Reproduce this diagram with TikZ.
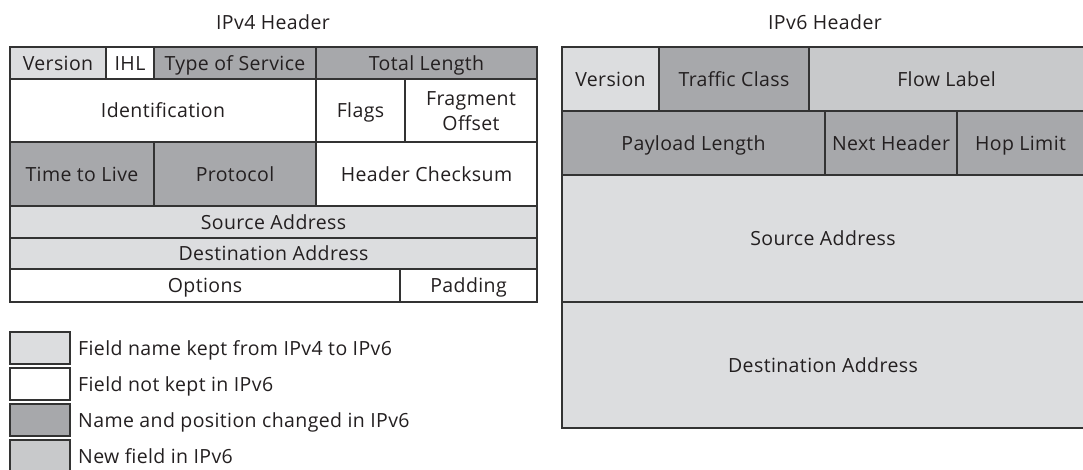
\documentclass[tikz,border=0pt]{standalone}
\usepackage{fontspec}
\setmainfont{Open Sans}[LetterSpace=2]
\usetikzlibrary{positioning}
\definecolor{keptgray}{RGB}{220,221,223}
\definecolor{movedgray}{RGB}{167,168,171}
\definecolor{newgray}{RGB}{200,201,203}
\definecolor{rulegray}{RGB}{51,51,51}
\definecolor{inkgray}{RGB}{35,31,32}
\tikzset{
  field/.style={draw=rulegray, line width=1.2pt, inner sep=0pt, outer sep=0pt,
    anchor=north west, align=center, text height=14pt, text depth=0pt},
  cell/.style 2 args={minimum width=#1pt, minimum height=#2pt},
  kept/.style={field, fill=keptgray},
  gone/.style={field, fill=white},
  moved/.style={field, fill=movedgray},
  added/.style={field, fill=newgray},
  keybox/.style={cell={60}{32}},
  keytext/.style={inner sep=0pt, anchor=west, text height=14pt, text depth=0pt}
}

\begin{document}
\begin{tikzpicture}[x=1pt, y=-1pt, font=\fontsize{19.5}{25}\selectfont, text=inkgray]
  \useasboundingbox (0,0) rectangle (1083,469);

  % IPv4 header
  \node (v4title) at (273,22) {IPv4 Header};
  \node [kept, cell={96}{32}] (v4ver) at (10,47) {Version};
  \node [gone, cell={48}{32}] (v4ihl) at (106,47) {IHL};
  \node [moved, cell={162}{32}] (v4tos) at (154,47) {Type of Service};
  \node [moved, cell={221}{32}] (v4len) at (316,47) {Total Length};
  \node [gone, cell={306}{63}] (v4id) at (10,79) {Identification};
  \node [gone, cell={89}{63}] (v4flags) at (316,79) {Flags};
  \node [gone, cell={132}{63}, text height=39pt] (v4frag) at (405,79) {Fragment\\Offset};
  \node [moved, cell={144}{64}] (v4ttl) at (10,142) {Time to Live};
  \node [moved, cell={162}{64}] (v4proto) at (154,142) {Protocol};
  \node [gone, cell={221}{64}] (v4sum) at (316,142) {Header Checksum};
  \node [kept, cell={527}{32}] (v4src) at (10,206) {Source Address};
  \node [kept, cell={527}{31}] (v4dst) at (10,238) {Destination Address};
  \node [gone, cell={390}{33}] (v4opt) at (10,269) {Options};
  \node [gone, cell={137}{33}] (v4pad) at (400,269) {Padding};

  % IPv6 header
  \node (v6title) at (825,22) {IPv6 Header};
  \node [kept, cell={97}{64}] (v6ver) at (562,47) {Version};
  \node [moved, cell={150}{64}] (v6class) at (659,47) {Traffic Class};
  \node [added, cell={275}{64}] (v6flow) at (809,47) {Flow Label};
  \node [moved, cell={263}{64}] (v6len) at (562,111) {Payload Length};
  \node [moved, cell={132}{64}] (v6next) at (825,111) {Next Header};
  \node [moved, cell={127}{64}] (v6hop) at (957,111) {Hop Limit};
  \node [kept, cell={522}{127}] (v6src) at (562,175) {Source Address};
  \node [kept, cell={522}{126}] (v6dst) at (562,302) {Destination Address};

  % legend
  \node [kept, keybox] (key1) at (10,332) {};
  \node [gone, keybox, below=4pt of key1] (key2) {};
  \node [moved, keybox, below=4pt of key2] (key3) {};
  \node [added, keybox, below=4pt of key3] (key4) {};
  \node [keytext, right=8pt of key1] (label1) {Field name kept from IPv4 to IPv6};
  \node [keytext, right=8pt of key2] (label2) {Field not kept in IPv6};
  \node [keytext, right=8pt of key3] (label3) {Name and position changed in IPv6};
  \node [keytext, right=8pt of key4] (label4) {New field in IPv6};
\end{tikzpicture}
\end{document}
